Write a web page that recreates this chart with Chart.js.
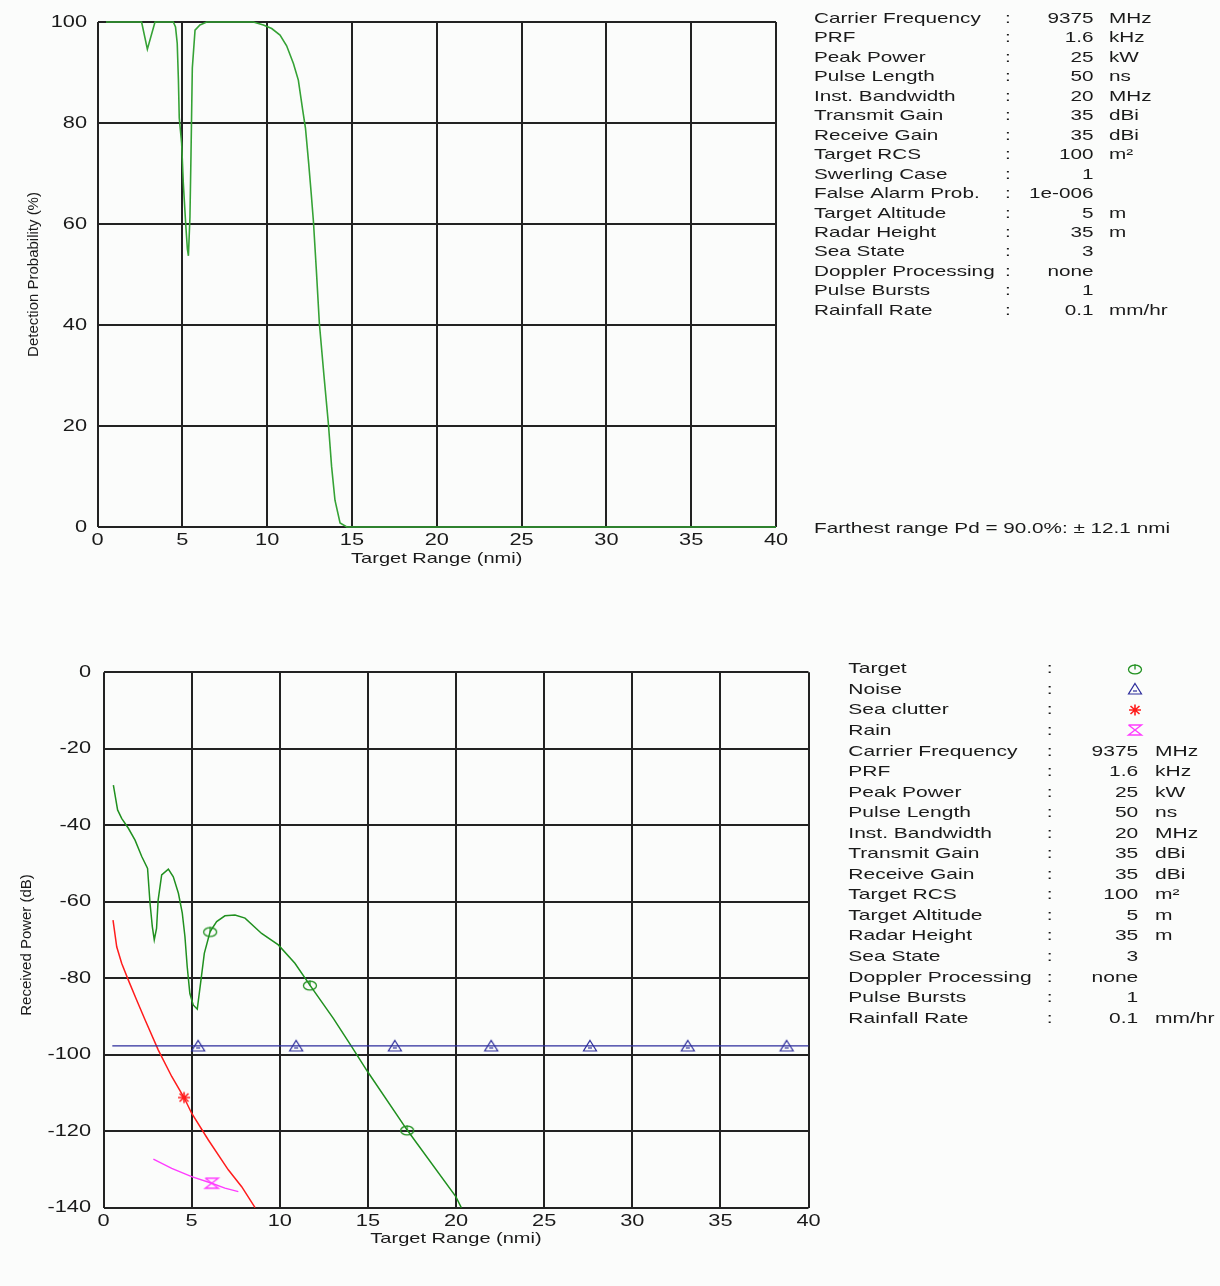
<!DOCTYPE html>
<html>
<head>
<meta charset="utf-8">
<script src="https://cdn.jsdelivr.net/npm/chart.js@4.4.1/dist/chart.umd.min.js"></script>
<style>
  html, body { margin: 0; padding: 0; background: #fbfcfb; }
  #wrap { position: relative; width: 1220px; height: 1286px; overflow: hidden; }
  canvas { position: absolute; left: 0; }
  #pdChart { top: 0; }
  #pwChart { top: 640px; }
</style>
</head>
<body>
<div id="wrap">
  <canvas id="pdChart" width="1220" height="640"></canvas>
  <canvas id="pwChart" width="1220" height="646"></canvas>
</div>
<script>
// ---- Detection probability (%) against target range (nmi) ----
const pdRange = [0.5, 2.6, 2.94, 3.39, 4.47, 4.6, 4.7, 4.77, 4.82, 4.96, 5.06, 5.2, 5.3, 5.36, 5.45, 5.51,
  5.59, 5.75, 6.04, 6.44, 9.19, 9.78, 10.27, 10.76, 11.15, 11.55, 11.84, 12.1, 12.26, 12.45, 12.6, 12.73,
  12.9, 13.08, 13.35, 13.61, 13.8, 14.0, 14.3, 14.7, 40];
const pdValue = [100, 100, 94.6, 100, 100, 99, 95.8, 88.5, 81, 76, 68, 60, 55, 53.7, 61.4, 73.3,
  90.9, 98.4, 99.4, 100, 100, 99.4, 98.7, 97.4, 95.3, 91.8, 88.5, 82.5, 79, 72, 66, 60.5,
  51, 40.3, 30, 20.5, 12, 5.3, 0.8, 0, 0];

// ---- Received power (dB) against target range (nmi) ----
const targetRange = [0.56, 0.8, 1.03, 1.41, 1.79, 2.17, 2.5, 2.64, 2.77, 2.88, 3.01, 3.1, 3.3, 3.68, 3.96,
  4.25, 4.47, 4.62, 4.75, 4.9, 5.09, 5.32, 5.53, 5.72, 6.05, 6.42, 6.89, 7.46, 8.03, 8.97, 9.92, 10.86,
  11.71, 13.04, 14.08, 14.98, 17.23, 19.99, 20.3];
const targetPower = [-29.5, -36, -38.2, -40.8, -43.9, -48.2, -51.3, -60.4, -66.5, -70, -67, -59.6, -53, -51.5, -53.5,
  -57.8, -63, -69.1, -77, -84, -87, -88.1, -80.5, -73.5, -67.8, -65.2, -63.7, -63.5, -64.3, -68.3, -71.3, -76.1,
  -81.8, -90.5, -97.9, -104.4, -119.7, -137.1, -140];
const targetMarks = [6.05, 11.71, 17.23];

const noiseRange = [0.5, 5.37, 10.93, 16.53, 22.0, 27.6, 33.15, 38.76, 40];
const noisePower = [-97.7, -97.7, -97.7, -97.7, -97.7, -97.7, -97.7, -97.7, -97.7];
const noiseMarks = [5.37, 10.93, 16.53, 22.0, 27.6, 33.15, 38.76];

const clutterRange = [0.54, 0.75, 1.03, 1.41, 1.88, 2.35, 3.11, 3.87, 4.57, 5.0, 5.95, 7.08, 7.84, 8.6];
const clutterPower = [-64.8, -71.8, -76.1, -80.5, -85.7, -90.8, -98.8, -105.7, -111.2, -115.3, -122.3, -130.1, -134.5, -140];
const clutterMarks = [4.57];

const rainRange = [2.83, 3.87, 5.0, 6.14, 6.89, 7.65];
const rainPower = [-127.3, -129.7, -131.9, -133.6, -134.9, -135.8];
const rainMarks = [6.14];

// ---- Tick values ----
const rangeTicks = [0, 5, 10, 15, 20, 25, 30, 35, 40];
const pdTicks = [0, 20, 40, 60, 80, 100];
const powerTicks = [-140, -120, -100, -80, -60, -40, -20, 0];

// ---- Parameter tables ----
const pdParamNames = ['Carrier Frequency', 'PRF', 'Peak Power', 'Pulse Length', 'Inst. Bandwidth', 'Transmit Gain',
  'Receive Gain', 'Target RCS', 'Swerling Case', 'False Alarm Prob.', 'Target Altitude', 'Radar Height',
  'Sea State', 'Doppler Processing', 'Pulse Bursts', 'Rainfall Rate'];
const pdParamValues = ['9375', '1.6', '25', '50', '20', '35', '35', '100', '1', '1e-006', '5', '35', '3', 'none', '1', '0.1'];
const pdParamUnits = ['MHz', 'kHz', 'kW', 'ns', 'MHz', 'dBi', 'dBi', 'm²', '', '', 'm', 'm', '', '', '', 'mm/hr'];
const pdFarthest = 'Farthest range Pd = 90.0%: ± 12.1 nmi';

const legendNames = ['Target', 'Noise', 'Sea clutter', 'Rain'];
const pwParamNames = ['Carrier Frequency', 'PRF', 'Peak Power', 'Pulse Length', 'Inst. Bandwidth', 'Transmit Gain',
  'Receive Gain', 'Target RCS', 'Target Altitude', 'Radar Height', 'Sea State', 'Doppler Processing',
  'Pulse Bursts', 'Rainfall Rate'];
const pwParamValues = ['9375', '1.6', '25', '50', '20', '35', '35', '100', '5', '35', '3', 'none', '1', '0.1'];
const pwParamUnits = ['MHz', 'kHz', 'kW', 'ns', 'MHz', 'dBi', 'dBi', 'm²', 'm', 'm', '', '', '', 'mm/hr'];

// ---- Styling ----
const FONT = '"Liberation Sans", Arial, sans-serif';
const INK = '#1a1a1a';
const GRID = '#222222';
const C_PD = '#35a235';
const C_TGT = '#20901f';
const C_NOISE = '#2d2d9c';
const C_CLUT = '#ff1c1c';
const C_RAIN = '#ff3cff';

// Text drawn with a horizontal stretch to get the wide screen-font look
function sText(ctx, s, x, y, align, size, sx) {
  ctx.save();
  ctx.font = size + 'px ' + FONT;
  ctx.fillStyle = INK;
  ctx.textAlign = align;
  ctx.textBaseline = 'alphabetic';
  ctx.translate(x, y);
  ctx.scale(sx, 1);
  ctx.fillText(s, 0, 0);
  ctx.restore();
}
function vText(ctx, s, x, y, size, sl) {
  ctx.save();
  ctx.font = size + 'px ' + FONT;
  ctx.fillStyle = INK;
  ctx.textAlign = 'center';
  ctx.textBaseline = 'middle';
  ctx.translate(x, y);
  ctx.rotate(-Math.PI / 2);
  ctx.scale(sl, 1);
  ctx.fillText(s, 0, 0);
  ctx.restore();
}

// Marker glyphs
function glyph(draw) {
  const c = document.createElement('canvas');
  c.width = 18; c.height = 16;
  const g = c.getContext('2d');
  g.translate(9, 8);
  g.lineWidth = 1.3;
  draw(g);
  return c;
}
const targetGlyph = glyph(g => {
  g.strokeStyle = C_TGT;
  g.beginPath(); g.ellipse(0, 0.5, 6.5, 4.4, 0, 0, Math.PI * 2); g.stroke();
  g.beginPath(); g.moveTo(0, -4.8); g.lineTo(0, 0.5); g.stroke();
});
const noiseGlyph = glyph(g => {
  g.strokeStyle = C_NOISE; g.lineWidth = 1.2;
  g.beginPath(); g.moveTo(0, -5.5); g.lineTo(6.5, 5); g.lineTo(-6.5, 5); g.closePath(); g.stroke();
  g.beginPath(); g.moveTo(-2, 2); g.lineTo(2, 2); g.stroke();
});
const clutterGlyph = glyph(g => {
  g.strokeStyle = C_CLUT; g.lineWidth = 1.6;
  g.beginPath();
  g.moveTo(-6, 0); g.lineTo(6, 0);
  g.moveTo(0, -5.5); g.lineTo(0, 5.5);
  g.moveTo(-4.5, -4); g.lineTo(4.5, 4);
  g.moveTo(4.5, -4); g.lineTo(-4.5, 4);
  g.stroke();
});
const rainGlyph = glyph(g => {
  g.strokeStyle = C_RAIN; g.lineWidth = 1.4;
  g.beginPath();
  g.moveTo(-6.5, -5); g.lineTo(6.5, -5); g.lineTo(-6.5, 5); g.lineTo(6.5, 5); g.lineTo(-6.5, -5);
  g.stroke();
});

function pts(xs, ys) { return xs.map((x, i) => ({ x: x, y: ys[i] })); }

function scaleOpts(min, max, step) {
  return {
    type: 'linear', min: min, max: max,
    ticks: { display: false, stepSize: step },
    grid: { color: GRID, lineWidth: 2, drawTicks: false },
    border: { display: false }
  };
}

// Axis labels, titles and parameter panel for one chart
function labelsPlugin(cfg) {
  return {
    id: 'labels_' + cfg.name,
    afterDraw(chart) {
      const ctx = chart.ctx, xs = chart.scales.x, ys = chart.scales.y, a = chart.chartArea;
      cfg.xTicks.forEach(v => sText(ctx, String(v), xs.getPixelForValue(v), a.bottom + 18, 'center', 16, 1.36));
      cfg.yTicks.forEach(v => sText(ctx, String(v), a.left - cfg.yGap, ys.getPixelForValue(v) + 4.5, 'right', 16, 1.36));
      sText(ctx, 'Target Range (nmi)', (a.left + a.right) / 2, a.bottom + 35.5, 'center', 14.5, 1.38);
      vText(ctx, cfg.yTitle, cfg.yTitleX, (a.top + a.bottom) / 2 + cfg.yTitleDy, 14, 1.07);
      cfg.panel(ctx);
    }
  };
}

function markerRadius(marks) {
  return c => (c.raw && marks.includes(c.raw.x)) ? 6 : 0;
}

// ---------- Chart 1 : detection probability ----------
new Chart(document.getElementById('pdChart'), {
  type: 'line',
  data: {
    datasets: [{
      data: pts(pdRange, pdValue),
      borderColor: C_PD, borderWidth: 1.6, pointRadius: 0, tension: 0, clip: 4
    }]
  },
  options: {
    responsive: false, animation: false, devicePixelRatio: 1,
    layout: { padding: { left: 97.5, right: 444, top: 22, bottom: 113 } },
    plugins: { legend: { display: false }, tooltip: { enabled: false } },
    scales: { x: scaleOpts(0, 40, 5), y: scaleOpts(0, 100, 20) }
  },
  plugins: [labelsPlugin({
    name: 'pd', xTicks: rangeTicks, yTicks: pdTicks, yGap: 10.5,
    yTitle: 'Detection Probability (%)', yTitleX: 34, yTitleDy: 0,
    panel(ctx) {
      pdParamNames.forEach((n, i) => {
        const y = 22.7 + i * 19.48;
        sText(ctx, n, 814, y, 'left', 15, 1.38);
        sText(ctx, ':', 1005, y, 'left', 15, 1.38);
        sText(ctx, pdParamValues[i], 1093.5, y, 'right', 15, 1.38);
        if (pdParamUnits[i]) sText(ctx, pdParamUnits[i], 1109, y, 'left', 15, 1.38);
      });
      sText(ctx, pdFarthest, 814, 532.7, 'left', 15, 1.38);
    }
  })]
});

// ---------- Chart 2 : received power ----------
const OFF = 640; // page offset of this canvas
new Chart(document.getElementById('pwChart'), {
  type: 'line',
  data: {
    datasets: [
      { data: pts(noiseRange, noisePower), borderColor: C_NOISE, borderWidth: 1.4, tension: 0,
        pointStyle: noiseGlyph, pointRadius: markerRadius(noiseMarks), clip: 8 },
      { data: pts(rainRange, rainPower), borderColor: C_RAIN, borderWidth: 1.4, tension: 0,
        pointStyle: rainGlyph, pointRadius: markerRadius(rainMarks), clip: 8 },
      { data: pts(clutterRange, clutterPower), borderColor: C_CLUT, borderWidth: 1.5, tension: 0,
        pointStyle: clutterGlyph, pointRadius: markerRadius(clutterMarks), clip: 8 },
      { data: pts(targetRange, targetPower), borderColor: C_TGT, borderWidth: 1.5, tension: 0,
        pointStyle: targetGlyph, pointRadius: markerRadius(targetMarks), clip: 8 }
    ]
  },
  options: {
    responsive: false, animation: false, devicePixelRatio: 1,
    layout: { padding: { left: 103.5, right: 411.5, top: 32.2, bottom: 78.3 } },
    plugins: { legend: { display: false }, tooltip: { enabled: false } },
    scales: { x: scaleOpts(0, 40, 5), y: scaleOpts(-140, 0, 20) }
  },
  plugins: [labelsPlugin({
    name: 'pw', xTicks: rangeTicks, yTicks: powerTicks, yGap: 12.5,
    yTitle: 'Received Power (dB)', yTitleX: 27, yTitleDy: 5,
    panel(ctx) {
      const glyphs = [targetGlyph, noiseGlyph, clutterGlyph, rainGlyph];
      const rowY = i => 673.3 + i * 20.55 - OFF;
      legendNames.forEach((n, i) => {
        const y = rowY(i);
        sText(ctx, n, 848.3, y, 'left', 15, 1.4);
        sText(ctx, ':', 1046.7, y, 'left', 15, 1.4);
        const gl = glyphs[i];
        ctx.drawImage(gl, Math.round(1135 - gl.width / 2), Math.round(y - 4.5 - gl.height / 2));
      });
      pwParamNames.forEach((n, k) => {
        const y = rowY(k + legendNames.length);
        sText(ctx, n, 848.3, y, 'left', 15, 1.4);
        sText(ctx, ':', 1046.7, y, 'left', 15, 1.4);
        sText(ctx, pwParamValues[k], 1138.3, y, 'right', 15, 1.4);
        if (pwParamUnits[k]) sText(ctx, pwParamUnits[k], 1155, y, 'left', 15, 1.4);
      });
    }
  })]
});
</script>
</body>
</html>
